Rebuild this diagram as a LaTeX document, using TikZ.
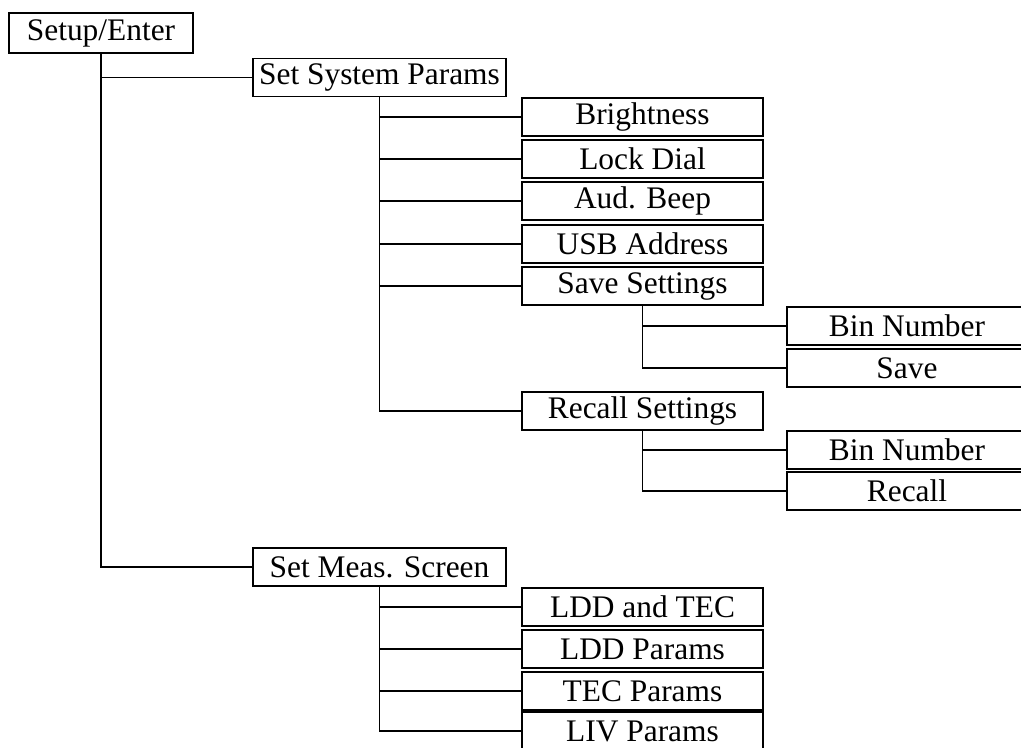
\documentclass[tikz,border=0pt]{standalone}
\usepackage{fontspec}
\setmainfont{Liberation Serif}
\usetikzlibrary{calc,shapes,positioning}

\tikzset{
    menu/.style={draw, line width=0.9pt, fill=white, inner sep=0pt, minimum height=19pt,
        font=\fontsize{15.7}{18}\selectfont},
    topbox/.style={menu, minimum width=92pt, minimum height=20pt},
    midbox/.style={menu, minimum width=126.5pt},
    subbox/.style={menu, minimum width=120.5pt},
    leafbox/.style={menu, minimum width=120pt},
    link/.style={line width=0.9pt},
}

\begin{document}
\begin{tikzpicture}[x=0.5pt, y=-0.5pt]
        \useasboundingbox (0,0) rectangle (1021,748);

        % top level
        \node[topbox] (setup) at (101,33) {Setup/Enter};
        \node[midbox] (sysp) at (379.5,77.5) {Set System Params};
        \node[midbox] (meas) at (379.5,567) {Set Meas. Screen};

        % system params menu
        \node[subbox] (bright) at (642.5,117) {Brightness};
        \node[subbox] (lock) at (642.5,159) {Lock Dial};
        \node[subbox] (beep) at (642.5,201) {Aud. Beep};
        \node[subbox] (usb) at (642.5,244) {USB Address};
        \node[subbox] (savest) at (642.5,286) {Save Settings};
        \node[subbox] (recst) at (642.5,411) {Recall Settings};

        \node[leafbox] (savebin) at (907,326) {Bin Number};
        \node[leafbox] (save) at (907,368) {Save};
        \node[leafbox] (recbin) at (907,450) {Bin Number};
        \node[leafbox] (recall) at (907,491) {Recall};

        % measurement screen menu
        \node[subbox] (lddtec) at (642.5,607) {LDD and TEC};
        \node[subbox] (lddp) at (642.5,649) {LDD Params};
        \node[subbox] (tecp) at (642.5,691) {TEC Params};
        \node[subbox] (livp) at (642.5,731) {LIV Params};

        % connectors
        \foreach \child in {sysp,meas}
            \draw[link] (setup.south) |- (\child.west);
        \foreach \child in {bright,lock,beep,usb,savest,recst}
            \draw[link] (sysp.south) |- (\child.west);
        \foreach \child in {savebin,save}
            \draw[link] (savest.south) |- (\child.west);
        \foreach \child in {recbin,recall}
            \draw[link] (recst.south) |- (\child.west);
        \foreach \child in {lddtec,lddp,tecp,livp}
            \draw[link] (meas.south) |- (\child.west);
    \end{tikzpicture}
\end{document}
